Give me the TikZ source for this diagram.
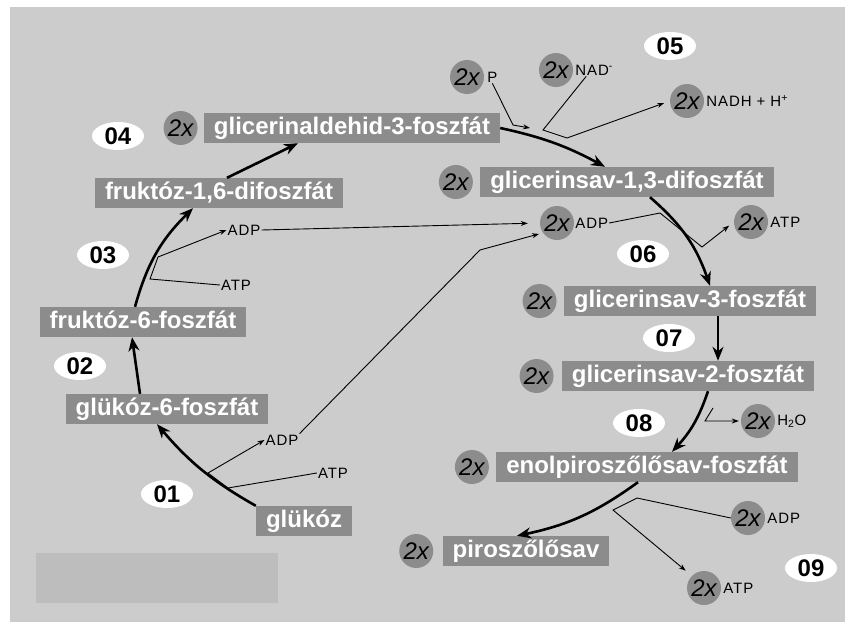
\documentclass[tikz,border=0pt]{standalone}
\usepackage{fontspec}
\setmainfont{Liberation Sans}
\newfontfamily\speciesfont[LetterSpace=6]{Liberation Sans}
\usepackage{tikz}
\usetikzlibrary{arrows, arrows.meta, positioning, shapes, calc}
\definecolor{bggray}{RGB}{204, 204, 204}
\definecolor{boxgray}{RGB}{140, 140, 140}
\definecolor{panelgray}{RGB}{189, 189, 189}

\begin{document}
\begin{tikzpicture}[
    x=1pt, y=-1pt,
    metab/.style={fill=boxgray, text=white, inner xsep=10pt, inner ysep=4pt, text height=17pt, text depth=5pt, font=\fontsize{24}{24}\selectfont\bfseries},
    times/.style={circle, fill=boxgray, minimum size=34pt, inner sep=0pt, font=\fontsize{24}{24}\selectfont\itshape},
    species/.style={inner sep=1pt, font=\fontsize{15}{15}\selectfont\speciesfont},
    stepno/.style={ellipse, fill=white, minimum width=52pt, minimum height=28pt, inner sep=0pt, font=\fontsize{24}{24}\selectfont\bfseries},
    mainarrow/.style={-{Stealth[length=14pt, width=11pt]}, line width=2.6pt},
    sidearrow/.style={-{Stealth[length=7pt, width=5pt]}, line width=0.9pt},
]

\useasboundingbox (0,0) rectangle (854,632);
\fill[white] (0,0) rectangle (854,632);
\fill[bggray] (10,7) rectangle (845,622);
\node[fill=panelgray, minimum width=242pt, minimum height=50pt, inner sep=0pt] (blank) at (157,578) {};

% Left half of the cycle
\node[metab] (glu) at (304,521) {glükóz};
\node[metab] (gsixp) at (167,409) {glükóz-6-foszfát};
\node[metab] (fsixp) at (143,322) {fruktóz-6-foszfát};
\node[metab] (fbp) at (219,193) {fruktóz-1,6-difoszfát};
\node[metab] (gap) at (352,128) {glicerinaldehid-3-foszfát};
\node[times, left=6pt of gap] (xgap) {2x};

% Right half of the cycle
\node[metab] (bpg) at (627,182) {glicerinsav-1,3-difoszfát};
\node[times, left=7pt of bpg] (xbpg) {2x};
\node[metab] (pgthree) at (690,301) {glicerinsav-3-foszfát};
\node[times, left=7pt of pgthree] (xpgthree) {2x};
\node[metab] (pgtwo) at (688,376) {glicerinsav-2-foszfát};
\node[times, left=8pt of pgtwo] (xpgtwo) {2x};
\node[metab] (pep) at (647,467) {enolpiroszőlősav-foszfát};
\node[times, left=7pt of pep] (xpep) {2x};
\node[metab] (pyr) at (526,551) {piroszőlősav};
\node[times, left=9pt of pyr] (xpyr) {2x};

% Step numbers
\node[stepno] (n01) at (167,494) {01};
\node[stepno] (n02) at (80,366) {02};
\node[stepno] (n03) at (103,255) {03};
\node[stepno] (n04) at (118,136) {04};
\node[stepno] (n05) at (670,46) {05};
\node[stepno] (n06) at (643,254) {06};
\node[stepno] (n07) at (669,338) {07};
\node[stepno] (n08) at (639,423) {08};
\node[stepno] (n09) at (811,568) {09};

% Cofactors
\node[species] (adpa) at (244,230) {ADP};
\node[species] (atpa) at (236,285) {ATP};
\node[species] (adpb) at (282,440) {ADP};
\node[species] (atpb) at (333,473) {ATP};

\node[times] (xP) at (467,77) {2x};
\node[species, right=2pt of xP] (tP) {P};
\node[times] (xNAD) at (556,70) {2x};
\node[species, right=1pt of xNAD] (tNAD) {NAD\textsuperscript{-}};
\node[times] (xNADH) at (687,101) {2x};
\node[species, right=1pt of xNADH] (tNADH) {NADH + H\textsuperscript{+}};
\node[times] (xADPm) at (557,223) {2x};
\node[species, right=0pt of xADPm] (tADPm) {ADP};
\node[times] (xATPr) at (751,222) {2x};
\node[species, right=1pt of xATPr] (tATPr) {ATP};
\node[times] (xH) at (758,421) {2x};
\node[species, right=1pt of xH] (tH) {H\textsubscript{2}O};
\node[times] (xADPb) at (748,518) {2x};
\node[species, right=1pt of xADPb] (tADPb) {ADP};
\node[times] (xATPb) at (704,588) {2x};
\node[species, right=1pt of xATPb] (tATPb) {ATP};

% Junctions on the main arcs
\coordinate (j1a) at (228,488);
\coordinate (j1b) at (208,473);
\coordinate (k1) at (480,250);
\coordinate (j3a) at (150,279);
\coordinate (j3b) at (158,257);
\coordinate (j5a) at (513,125);
\coordinate (j5b) at (530,128);
\coordinate (j5c) at (543,130);
\coordinate (j5d) at (567,138);
\coordinate (j6a) at (660,213);
\coordinate (j6b) at (702,247);
\coordinate (j8a) at (713,408);
\coordinate (j8b) at (705,421);
\coordinate (j9a) at (637,498);
\coordinate (j9b) at (613,510);

% Main pathway
\draw[mainarrow] (glu.north west) to[bend left=10] ([xshift=-10pt]gsixp.south);
\draw[mainarrow] ([xshift=-27pt]gsixp.north) -- ([xshift=-11pt]fsixp.south);
\draw[mainarrow] ([xshift=-8pt]fsixp.north) to[bend left=15] ([xshift=-26pt]fbp.south);
\draw[mainarrow] ([xshift=8pt]fbp.north) -- ([xshift=-54pt]gap.south);
\draw[mainarrow] (gap.east) to[bend left=8] ([xshift=-22pt]bpg.north);
\draw[mainarrow] ([xshift=23pt]bpg.south) to[bend left=15] ([xshift=20pt]pgthree.north);
\draw[mainarrow] ([xshift=28pt]pgthree.south) -- ([xshift=30pt]pgtwo.north);
\draw[mainarrow] ([xshift=20pt]pgtwo.south) to[bend left=12] ([xshift=25pt]pep.north);
\draw[mainarrow] ([xshift=-9pt]pep.south) to[bend left=12] ([xshift=-9pt]pyr.north);

% Side reactions
\draw[sidearrow] (atpb.west) -- (j1a) -- (j1b) -- (adpb.west);
\draw[sidearrow, shorten >=4pt] (adpb.north east) -- (k1) -- (xADPm.215);
\draw[sidearrow] (atpa.west) -- (j3a) -- (j3b) -- (adpa.west);
\draw[sidearrow, shorten >=12pt] (adpa.east) -- (xADPm.west);
\draw[sidearrow] (tP.south) -- (j5a) -- (j5b);
\draw[sidearrow, shorten >=6pt] ([xshift=12pt]tNAD.south west) -- (j5c) -- (j5d) -- (xNADH.west);
\draw[sidearrow, shorten >=6pt] (tADPm.east) -- (j6a) -- (j6b) -- (xATPr.west);
\draw[sidearrow, shorten >=2pt] (j8a) -- (j8b) -- (xH.west);
\draw[sidearrow, shorten >=8pt] (xADPb.west) -- (j9a) -- (j9b) -- (xATPb.north west);

\end{tikzpicture}
\end{document}
